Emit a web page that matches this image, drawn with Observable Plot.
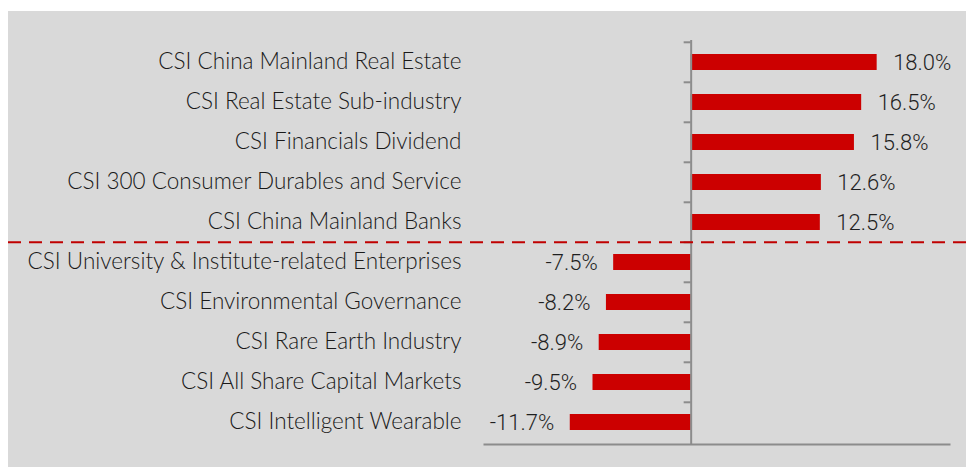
<!DOCTYPE html>
<html>
<head>
<meta charset="utf-8">
<script src="https://cdn.jsdelivr.net/npm/d3@7"></script>
<script src="https://cdn.jsdelivr.net/npm/@observablehq/plot@0.6"></script>
<style>
  html, body { margin: 0; padding: 0; background: #ffffff; }
  #wrap { position: absolute; left: 8px; top: 11px; width: 958px; height: 456px; background: #d9d9d9; }
  #wrap svg { display: block; }
</style>
</head>
<body>
<div id="wrap"></div>
<script>
const categories = [
  "CSI China Mainland Real Estate",
  "CSI Real Estate Sub-industry",
  "CSI Financials Dividend",
  "CSI 300 Consumer Durables and Service",
  "CSI China Mainland Banks",
  "CSI University & Institute-related Enterprises",
  "CSI Environmental Governance",
  "CSI Rare Earth Industry",
  "CSI All Share Capital Markets",
  "CSI Intelligent Wearable"
];
const values = [18.0, 16.5, 15.8, 12.6, 12.5, -7.5, -8.2, -8.9, -9.5, -11.7];
const separatorBefore = ["CSI University & Institute-related Enterprises"];
const xDomain = [-20, 25];

const data = categories.map((name, i) => ({name, value: values[i]}));

const W = 958, H = 456, mTop = 29, mBottom = 23;
const step = (H - mTop - mBottom) / categories.length;

function extendFullWidth(index, scales, values, dimensions, context, next) {
  const g = next(index, scales, values, dimensions, context);
  g.querySelectorAll("line").forEach(l => {
    l.setAttribute("x1", 0);
    l.setAttribute("x2", dimensions.width);
  });
  return g;
}

const chart = Plot.plot({
  width: W,
  height: H,
  marginLeft: 476,
  marginRight: 17,
  marginTop: mTop,
  marginBottom: mBottom,
  style: {background: "transparent", fontFamily: "Lato, sans-serif", fontSize: "20px", color: "#1f1f1f"},
  x: {domain: xDomain, axis: null},
  y: {domain: categories, padding: 0, axis: null},
  marks: [
    Plot.barX(data, {x: "value", y: "name", fill: "#cc0000", insetTop: 12, insetBottom: 12}),
    Plot.frame({anchor: "bottom", stroke: "#8c8c8c", strokeWidth: 2}),
    Plot.ruleX([0], {stroke: "#8c8c8c", strokeWidth: 2}),
    Plot.ruleY(categories, {y: d => d, x1: 0, x2: 0, insetLeft: -7, dy: -step / 2, stroke: "#8c8c8c", strokeWidth: 2}),
    Plot.ruleY(separatorBefore, {y: d => d, dy: -step / 2, stroke: "#c00000", strokeWidth: 2, strokeDasharray: "13,8", render: extendFullWidth}),
    Plot.axisY({anchor: "left", label: null, tickSize: 0, tickPadding: 23, dy: -1, fontSize: 22.5, fontWeight: 300, fill: "#1a1a1a", fontFamily: "Lato, sans-serif"}),
    Plot.text(data, {
      x: "value", y: "name",
      text: d => d.value.toFixed(1) + "%",
      fontFamily: "Roboto, sans-serif",
      fontWeight: 300,
      fontSize: 22,
      fill: "#1f1f1f",
      render: (index, scales, values, dimensions, context, next) => {
        const g = next(index, scales, values, dimensions, context);
        g.querySelectorAll("text").forEach((t, k) => {
          const v = data[index[k]].value;
          t.setAttribute("dx", v >= 0 ? 16 : -16);
          t.setAttribute("text-anchor", v >= 0 ? "start" : "end");
        });
        return g;
      }
    })
  ]
});
document.getElementById("wrap").appendChild(chart);
</script>
</body>
</html>
